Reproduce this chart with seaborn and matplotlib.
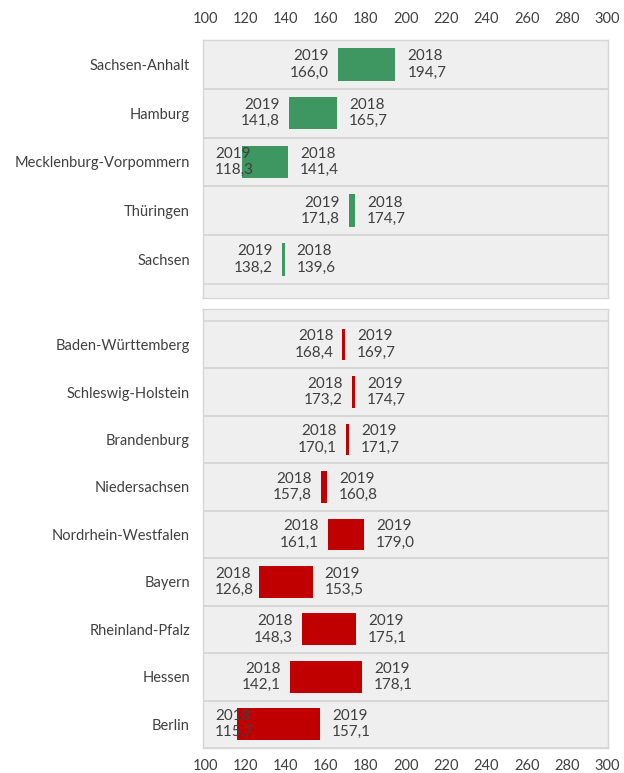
import matplotlib
matplotlib.use('Agg')
import matplotlib.pyplot as plt
import seaborn as sns
import pandas as pd

# top block: values fell from 2018 to 2019 (green)
down_states = ["Sachsen-Anhalt", "Hamburg", "Mecklenburg-Vorpommern", "Thüringen", "Sachsen"]
down_2019 = [166.0, 141.8, 118.3, 171.8, 138.2]
down_2018 = [194.7, 165.7, 141.4, 174.7, 139.6]

# bottom block: values rose from 2018 to 2019 (red)
up_states = ["Baden-Württemberg", "Schleswig-Holstein", "Brandenburg", "Niedersachsen",
             "Nordrhein-Westfalen", "Bayern", "Rheinland-Pfalz", "Hessen", "Berlin"]
up_2018 = [168.4, 173.2, 170.1, 157.8, 161.1, 126.8, 148.3, 142.1, 115.7]
up_2019 = [169.7, 174.7, 171.7, 160.8, 179.0, 153.5, 175.1, 178.1, 157.1]

x_ticks = list(range(100, 301, 20))

GREEN = "#3e9660"
RED = "#c00000"
TXT = "#404040"
BG = "#efefef"
LINE = "#d6d6d6"

sns.set_theme(style="white")
plt.rcParams['font.family'] = ['Lato', 'DejaVu Sans']


def fmt(v):
    return "{:.1f}".format(v).replace(".", ",")


def draw_block(ax, df, left_year, right_year, color):
    n = len(df)
    ax.set_facecolor(BG)
    lo = df[["lo", "hi"]].min(axis=1)
    hi = df[["lo", "hi"]].max(axis=1)
    ax.barh(range(n), hi - lo, left=lo, height=0.67, color=color,
            edgecolor="none", linewidth=0, zorder=3)
    for i in range(n):
        ax.axhline(i + 0.5, color=LINE, lw=1.2, zorder=1)
        ax.axhline(i - 0.5, color=LINE, lw=1.2, zorder=1)
        s, e = df["lo"].iloc[i], df["hi"].iloc[i]
        if s < 127.5:
            ax.text(105, i, "{}\n{}".format(left_year, fmt(s)), ha="left", va="center",
                    color=TXT, fontsize=11, linespacing=1.2, zorder=4)
        else:
            ax.text(s - 4.5, i, "{}\n{}".format(left_year, fmt(s)), ha="right", va="center",
                    color=TXT, fontsize=11, linespacing=1.2, zorder=4)
        ax.text(e + 6, i, "{}\n{}".format(right_year, fmt(e)), ha="left", va="center",
                color=TXT, fontsize=11, linespacing=1.2, zorder=4)
    ax.set_yticks(range(n))
    ax.set_yticklabels(df["state"], color=TXT, fontsize=10.5)
    ax.set_xlim(99, 300.5)
    ax.set_xticks(x_ticks)
    ax.set_xticklabels([str(t) for t in x_ticks], color=TXT, fontsize=10.5)
    ax.tick_params(axis="both", length=0)
    ax.tick_params(axis="y", pad=9.4)
    for sp in ax.spines.values():
        sp.set_color(LINE)
        sp.set_linewidth(1.0)


df_down = pd.DataFrame({"state": down_states, "lo": down_2019, "hi": down_2018})
df_up = pd.DataFrame({"state": up_states, "lo": up_2018, "hi": up_2019})

fig = plt.figure(figsize=(6.24, 7.73), dpi=100)
ax1 = fig.add_axes([203 / 624, 1 - 298 / 773, 405 / 624, 258 / 773])
ax2 = fig.add_axes([203 / 624, 1 - 748 / 773, 405 / 624, 439 / 773])

draw_block(ax1, df_down, 2019, 2018, GREEN)
ax1.set_ylim(4.5 + 0.29, -0.5)
ax1.xaxis.tick_top()
ax1.xaxis.set_label_position("top")
ax1.tick_params(axis="x", pad=10)

draw_block(ax2, df_up, 2018, 2019, RED)
ax2.set_ylim(8.5, -0.75)
ax2.tick_params(axis="x", pad=8)

plt.savefig("out.png", dpi=100)
